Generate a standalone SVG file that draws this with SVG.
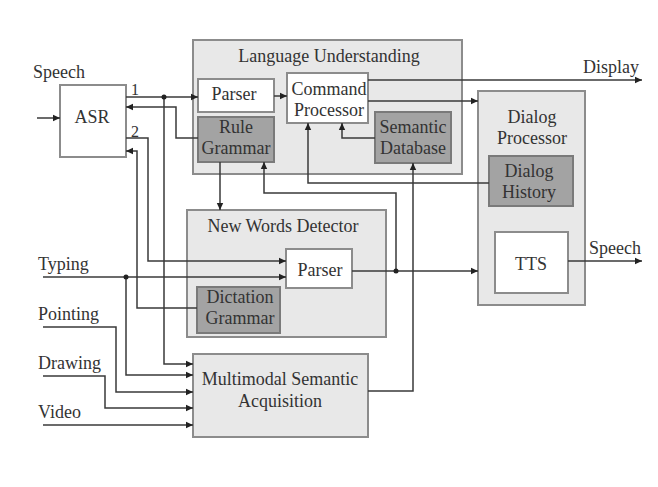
<svg xmlns="http://www.w3.org/2000/svg" width="658" height="487" viewBox="0 0 658 487">
<style>
text{font-family:"Liberation Serif","Times New Roman",serif;font-size:18px;fill:#333}
.m{text-anchor:middle}
.grp{fill:#e8e8e8;stroke:#8c8c8c;stroke-width:2}
.wht{fill:#fff;stroke:#8c8c8c;stroke-width:2}
.drk{fill:#a3a3a3;stroke:#7a7a7a;stroke-width:2}
.ln{fill:none;stroke:#3a3a3a;stroke-width:1.5}
.ar{marker-end:url(#ah)}
.dot{fill:#222}
</style>
<defs>
<marker id="ah" markerUnits="userSpaceOnUse" markerWidth="8" markerHeight="8" refX="7" refY="4" orient="auto">
<path d="M0,0.8 L7,4 L0,7.2 Z" fill="#222"/>
</marker>
</defs>
<rect width="658" height="487" fill="#fff"/>

<g id="asr"><rect class="wht" x="60" y="85" width="66" height="72"/><text class="m" x="92" y="123">ASR</text></g>

<g id="language-understanding">
<rect class="grp" x="193" y="40" width="269" height="134"/>
<text class="m" x="329" y="62">Language Understanding</text>
</g>
<g id="lu-parser"><rect class="wht" x="198" y="79" width="76" height="33"/><text class="m" x="234" y="100">Parser</text></g>
<g id="rule-grammar"><rect class="drk" x="198" y="117" width="76" height="45"/><text class="m" x="236" y="133">Rule</text><text class="m" x="236" y="154">Grammar</text></g>
<g id="command-processor"><rect class="wht" x="287" y="73" width="81" height="50"/><text class="m" x="329" y="95">Command</text><text class="m" x="329" y="116">Processor</text></g>
<g id="semantic-database"><rect class="drk" x="375" y="112" width="76" height="51"/><text class="m" x="413" y="133">Semantic</text><text class="m" x="413" y="154">Database</text></g>

<g id="dialog-processor">
<rect class="grp" x="478" y="91" width="107" height="214"/>
<text class="m" x="532" y="123">Dialog</text><text class="m" x="532" y="144">Processor</text>
</g>
<g id="dialog-history"><rect class="drk" x="489" y="156" width="84" height="50"/><text class="m" x="529" y="177">Dialog</text><text class="m" x="529" y="198">History</text></g>
<g id="tts"><rect class="wht" x="495" y="232" width="73" height="61"/><text class="m" x="531" y="270">TTS</text></g>

<g id="new-words-detector">
<rect class="grp" x="187" y="210" width="199" height="127"/>
<text class="m" x="283" y="232">New Words Detector</text>
</g>
<g id="nwd-parser"><rect class="wht" x="286" y="249" width="66" height="39"/><text class="m" x="320" y="276">Parser</text></g>
<g id="dictation-grammar"><rect class="drk" x="197" y="287" width="83" height="46"/><text class="m" x="240" y="303">Dictation</text><text class="m" x="240" y="324">Grammar</text></g>

<g id="msa"><rect class="grp" x="193" y="354" width="175" height="83"/><text class="m" x="280" y="385">Multimodal Semantic</text><text class="m" x="280" y="407">Acquisition</text></g>

<g id="labels">
<text x="33" y="78">Speech</text>
<text x="131" y="95" style="font-size:16px">1</text>
<text x="131" y="137" style="font-size:16px">2</text>
<text x="583" y="73">Display</text>
<text x="589" y="254">Speech</text>
<text x="38" y="270">Typing</text>
<text x="38" y="320">Pointing</text>
<text x="38" y="369">Drawing</text>
<text x="38" y="418">Video</text>
</g>

<g id="connectors">
<path class="ln ar" d="M37,118 H60"/>
<path class="ln ar" d="M126,97 H198"/>
<path class="ln ar" d="M198,138 H176 V107 H126"/>
<path class="ln ar" d="M126,138 H148 V261 H286"/>
<path class="ln ar" d="M197,308 H137 V151 H126"/>
<path class="ln ar" d="M164,97 V364 H193"/>
<path class="ln ar" d="M43,277 H286"/>
<path class="ln ar" d="M126,277 V375 H193"/>
<path class="ln ar" d="M43,327 H116 V392 H193"/>
<path class="ln ar" d="M43,376 H105 V408 H193"/>
<path class="ln ar" d="M43,425 H193"/>
<path class="ln ar" d="M274,96 H287"/>
<path class="ln ar" d="M375,138 H342 V123"/>
<path class="ln ar" d="M368,80 H642"/>
<path class="ln ar" d="M368,101 H478"/>
<path class="ln ar" d="M489,183 H308 V123"/>
<path class="ln ar" d="M220,162 V210"/>
<path class="ln ar" d="M352,271 H478"/>
<path class="ln ar" d="M396,271 V193 H264 V162"/>
<path class="ln ar" d="M368,391 H413 V163"/>
<path class="ln ar" d="M568,261 H642"/>
<circle class="dot" cx="164" cy="97" r="2.5"/>
<circle class="dot" cx="126" cy="277" r="2.5"/>
<circle class="dot" cx="396" cy="271" r="2.5"/>
</g>
</svg>
